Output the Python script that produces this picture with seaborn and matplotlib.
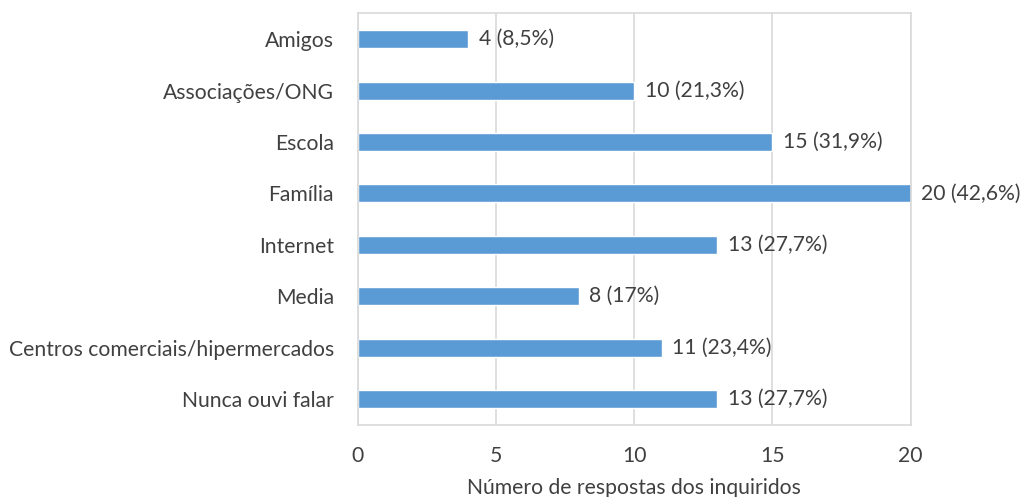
import matplotlib
matplotlib.use("Agg")
import matplotlib.pyplot as plt
import seaborn as sns
import pandas as pd

categories = ["Amigos", "Associações/ONG", "Escola", "Família", "Internet", "Media",
              "Centros comerciais/hipermercados", "Nunca ouvi falar"]
values = [4, 10, 15, 20, 13, 8, 11, 13]
labels = ["4 (8,5%)", "10 (21,3%)", "15 (31,9%)", "20 (42,6%)", "13 (27,7%)", "8 (17%)",
          "11 (23,4%)", "13 (27,7%)"]
xticks = [0, 5, 10, 15, 20]
xlabel = "Número de respostas dos inquiridos"

sns.set_theme(style="white")
plt.rcParams['font.family'] = ['Lato', 'DejaVu Sans']
txt = "#404040"
fs = 15.2

df = pd.DataFrame({"cat": categories, "val": values})
fig = plt.figure(figsize=(10.22, 4.97), dpi=100)
ax = fig.add_axes([0.350, 0.145, 0.541, 0.828])
sns.barplot(data=df, x="val", y="cat", orient="h", color="#5B9BD5", width=0.35,
            saturation=1, ax=ax)
for i, (v, l) in enumerate(zip(values, labels)):
    ax.text(v + 0.38, i, l, va="center", ha="left", fontsize=fs, color=txt)
ax.set_xlim(0, 20)
ax.set_xticks(xticks)
ax.set_xticklabels([str(t) for t in xticks])
ax.set_ylim(len(categories) - 0.5, -0.5)
ax.grid(axis="x", color="#d9d9d9", linewidth=1.2)
ax.set_axisbelow(True)
for s in ax.spines.values():
    s.set_color("#d9d9d9")
    s.set_linewidth(1.2)
ax.tick_params(axis="y", labelsize=fs, colors=txt, length=0, pad=17)
ax.tick_params(axis="x", labelsize=fs, colors=txt, length=0, pad=15)
ax.set_ylabel("")
ax.set_xlabel(xlabel, fontsize=fs, color=txt, labelpad=9)
fig.savefig("out.png", dpi=100)
